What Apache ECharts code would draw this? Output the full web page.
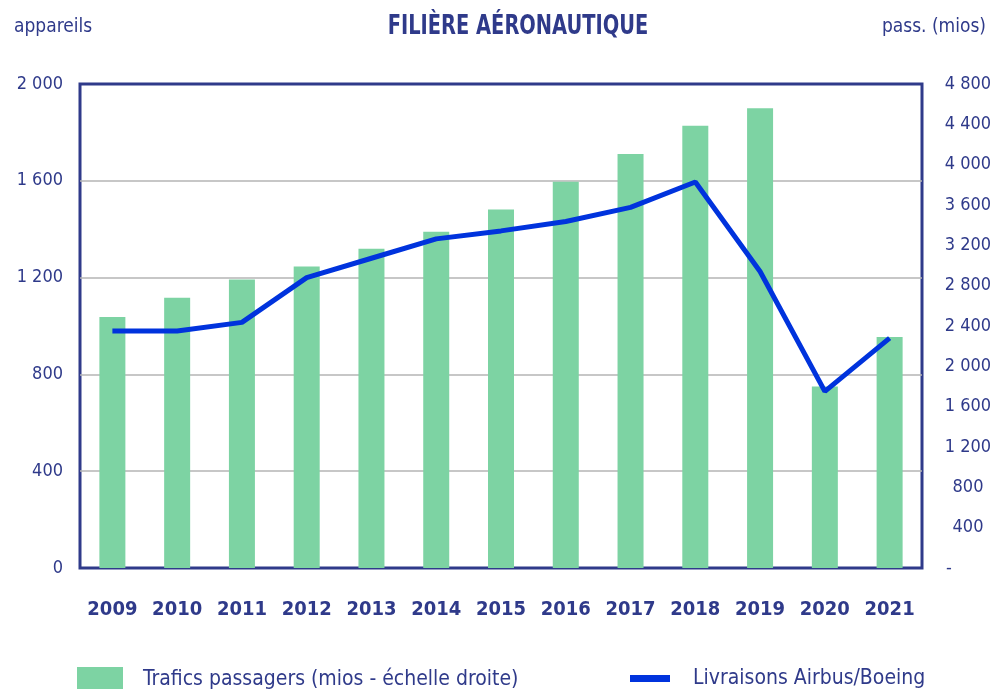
<!DOCTYPE html>
<html>
<head>
<meta charset="utf-8">
<script src="https://cdn.jsdelivr.net/npm/echarts@6/dist/echarts.min.js"></script>
<style>
  html, body { margin: 0; padding: 0; background: #fff; }
  #chart { width: 995px; height: 689px; }
</style>
</head>
<body>
<div id="chart"></div>
<script>
// Years on the category axis
const years = ['2009', '2010', '2011', '2012', '2013', '2014', '2015', '2016', '2017', '2018', '2019', '2020', '2021'];
// Passenger traffic, millions (right axis)
const passengers = [2490, 2680, 2860, 2990, 3165, 3335, 3555, 3830, 4105, 4385, 4560, 1800, 2290];
// Airbus + Boeing deliveries, aircraft (left axis)
const deliveries = [979, 979, 1015, 1200, 1280, 1360, 1393, 1432, 1490, 1595, 1225, 730, 950];
// Axis ranges
const leftMax = 2000, leftStep = 400;
const rightMax = 4800, rightStep = 400;

const navy = '#2f3a8a';
const font = "'Liberation Sans Narrow', 'DejaVu Sans Condensed', sans-serif";
const fmt = v => v >= 1000 ? Math.floor(v / 1000) + ' ' + String(v % 1000).padStart(3, '0') : String(v);

const chart = echarts.init(document.getElementById('chart'));
chart.setOption({
  animation: false,
  textStyle: { fontFamily: font, color: navy },
  graphic: [
    // condensed bold title
    { type: 'text', x: 518, y: 27, scaleX: 0.8,
      style: { text: 'FILIÈRE AÉRONAUTIQUE', fill: navy, textAlign: 'center', textVerticalAlign: 'middle',
        font: 'bold 27px ' + font } }
  ],
  title: [
    { text: 'appareils', left: 9, top: 13,
      textStyle: { fontFamily: font, fontSize: 19, fontWeight: 'normal', color: navy } },
    { text: 'pass. (mios)', right: 4, top: 13,
      textStyle: { fontFamily: font, fontSize: 19, fontWeight: 'normal', color: navy } }
  ],
  grid: {
    left: 80, right: 73, top: 84, bottom: 121,
    show: true, borderColor: navy, borderWidth: 3, backgroundColor: 'transparent'
  },
  legend: [
    { left: 72, top: 662, icon: 'rect', itemWidth: 46, itemHeight: 25,
      data: ['Trafics passagers (mios - échelle droite)'],
      textStyle: { fontFamily: font, fontSize: 21, color: navy, padding: [0, 0, 0, 15] } },
    { left: 625, top: 663, icon: 'rect', itemWidth: 40, itemHeight: 7,
      data: ['Livraisons Airbus/Boeing'],
      textStyle: { fontFamily: font, fontSize: 21, color: navy, padding: [0, 0, 0, 18] } }
  ],
  xAxis: {
    type: 'category', data: years,
    axisLine: { show: false }, axisTick: { show: false },
    axisLabel: { interval: 0, margin: 32, fontFamily: font, fontSize: 20, fontWeight: 'bold', color: navy }
  },
  yAxis: [
    { type: 'value', min: 0, max: leftMax, interval: leftStep, position: 'left',
      axisLine: { show: false }, axisTick: { show: false },
      splitLine: { showMinLine: false, showMaxLine: false, lineStyle: { color: '#b4b4b4', width: 1.5 } },
      axisLabel: { margin: 17, fontFamily: font, fontSize: 18, color: navy, formatter: fmt } },
    { type: 'value', min: 0, max: rightMax, interval: rightStep, position: 'right',
      axisLine: { show: false }, axisTick: { show: false }, splitLine: { show: false },
      axisLabel: {
        margin: 46, align: 'center', fontFamily: font, fontSize: 18, color: navy,
        formatter: v => v === 0 ? '{dash|-}' : fmt(v),
        rich: { dash: { width: 44, align: 'left', fontFamily: font, fontSize: 18, color: navy } }
      } }
  ],
  series: [
    { name: 'Trafics passagers (mios - échelle droite)', type: 'bar', yAxisIndex: 1,
      data: passengers, barWidth: 26, itemStyle: { color: '#7dd3a3' }, z: 1 },
    { name: 'Livraisons Airbus/Boeing', type: 'line', yAxisIndex: 0,
      data: deliveries, symbol: 'none', lineStyle: { color: '#0033dd', width: 5 },
      itemStyle: { color: '#0033dd' }, z: 3 }
  ]
});
</script>
</body>
</html>
